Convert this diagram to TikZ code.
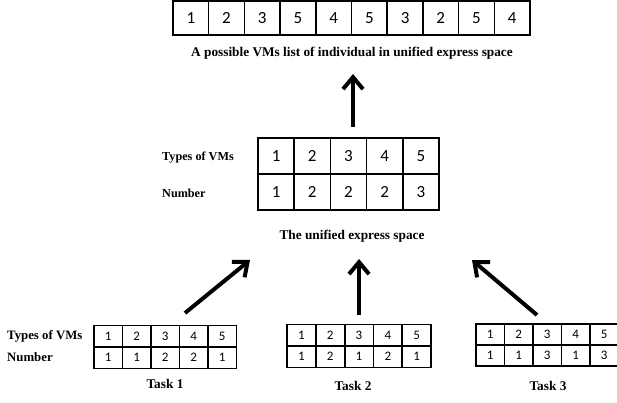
\documentclass[tikz,border=0pt]{standalone}
\usepackage{fontspec}
\setmainfont{Liberation Serif}
\newfontfamily\cellfont{Carlito}
\usetikzlibrary{arrows.meta}

\begin{document}
\begin{tikzpicture}[x=1pt, y=-1pt]
    \tikzstyle{cell} = [draw, line width=1.5pt, minimum width=35.7pt, minimum height=34pt, inner sep=0pt, font=\cellfont\fontsize{17}{17}\selectfont]
    \tikzstyle{smallcell} = [cell, minimum width=28.5pt, minimum height=21.5pt, font=\cellfont\fontsize{13}{13}\selectfont]
    \tikzstyle{txt} = [font=\bfseries\fontsize{13.3}{15}\selectfont, inner sep=0pt]
    \tikzstyle{arrow} = [-{Straight Barb[length=12pt, width=20pt]}, line width=4pt]
    \useasboundingbox (0,0) rectangle (617,403);

    % Individual list
    \foreach \v [count=\i] in {1,2,3,5,4,5,3,2,5,4}
        \node[cell] (l\i) at ({173+35.7*\i-17.85},18) {\v};
    \node[txt] (ltitle) at (352,53) {A possible VMs list of individual in unified express space};
    \coordinate (up1) at (353,127);
    \coordinate (up2) at (353,74);
    \draw[arrow] (up1) -- (up2);

    % Unified express space
    \node[txt, font=\bfseries\fontsize{12.2}{14}\selectfont, anchor=west] (utype) at (162,158) {Types of VMs};
    \node[txt, font=\bfseries\fontsize{12.2}{14}\selectfont, anchor=west] (unum) at (162,193) {Number};
    \foreach \v [count=\i] in {1,2,3,4,5}
        \node[cell, minimum width=36.2pt, minimum height=36pt] (ut\i) at ({258+36.2*\i-18.1},156) {\v};
    \foreach \v [count=\i] in {1,2,2,2,3}
        \node[cell, minimum width=36.2pt, minimum height=36pt] (un\i) at ({258+36.2*\i-18.1},192) {\v};
    \node[txt] (utitle) at (352,236) {The unified express space};

    % Task 1
    \node[txt, font=\bfseries\fontsize{12.8}{14}\selectfont, anchor=west] (atype) at (7,336) {Types of VMs};
    \node[txt, font=\bfseries\fontsize{12.8}{14}\selectfont, anchor=west] (anum) at (7,357) {Number};
    \foreach \v [count=\i] in {1,2,3,4,5}
        \node[smallcell] (at\i) at ({94+28.5*\i-14.25},336) {\v};
    \foreach \v [count=\i] in {1,1,2,2,1}
        \node[smallcell] (an\i) at ({94+28.5*\i-14.25},357.5) {\v};
    \node[txt] (atitle) at (165,384) {Task 1};

    % Task 2
    \foreach \v [count=\i] in {1,2,3,4,5}
        \node[smallcell] (bt\i) at ({287+28.8*\i-14.4},335) {\v};
    \foreach \v [count=\i] in {1,2,1,2,1}
        \node[smallcell] (bn\i) at ({287+28.8*\i-14.4},356.5) {\v};
    \node[txt] (btitle) at (353,386) {Task 2};

    % Task 3
    \foreach \v [count=\i] in {1,2,3,4,5}
        \node[smallcell] (ct\i) at ({476+28.5*\i-14.25},334.5) {\v};
    \foreach \v [count=\i] in {1,1,3,1,3}
        \node[smallcell] (cn\i) at ({476+28.5*\i-14.25},355) {\v};
    \node[txt] (ctitle) at (548,386) {Task 3};

    % Arrows to the unified space
    \coordinate (a1) at (185,313);
    \coordinate (a2) at (250,260);
    \coordinate (b1) at (359,315);
    \coordinate (b2) at (359,259);
    \coordinate (c1) at (537,315);
    \coordinate (c2) at (472,260);
    \draw[arrow] (a1) -- (a2);
    \draw[arrow] (b1) -- (b2);
    \draw[arrow] (c1) -- (c2);
\end{tikzpicture}
\end{document}
